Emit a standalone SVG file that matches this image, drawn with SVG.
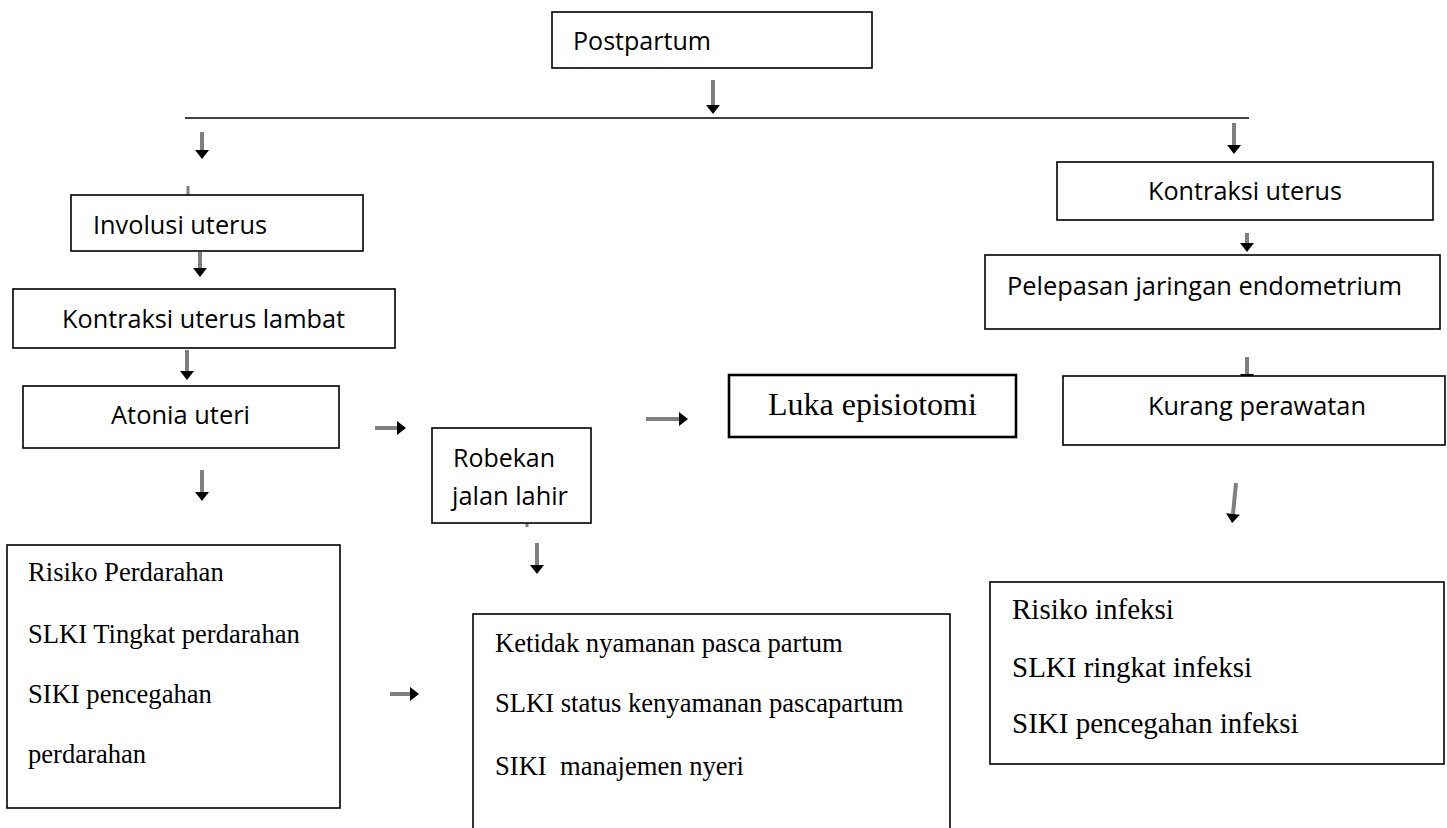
<svg xmlns="http://www.w3.org/2000/svg" width="1447" height="828" viewBox="0 0 1447 828">
<defs>
<marker id="ah" markerUnits="userSpaceOnUse" markerWidth="10" markerHeight="14" refX="0" refY="7" orient="auto" overflow="visible">
<path d="M0,0 L9,7 L0,14 Z" fill="#000"/>
</marker>
</defs>
<style>
.box{fill:#fff;stroke:#000;stroke-width:1.6}
.thick{stroke-width:2.6}
.sans{font-family:"Open Sans","Noto Sans",sans-serif;font-size:26px;fill:#000}
.serif{font-family:"Liberation Serif","Times New Roman",serif;font-size:26.6px;fill:#000}
.arr{stroke:#808080;stroke-width:4;fill:none;marker-end:url(#ah)}
.tick{stroke:#808080;stroke-width:3;fill:none}
.hline{stroke:#000;stroke-width:1.5}
</style>
<rect width="1447" height="828" fill="#fff"/>
<g id="connectors">
<line class="hline" x1="185" y1="118" x2="1249" y2="118"/>
<line class="arr" x1="713" y1="80" x2="713" y2="105"/>
<line class="arr" x1="202" y1="132" x2="202" y2="150"/>
<line class="tick" x1="188" y1="186" x2="188" y2="196"/>
<line class="arr" x1="200" y1="252" x2="200" y2="268"/>
<line class="arr" x1="187" y1="350" x2="187" y2="371"/>
<line class="arr" x1="202" y1="470" x2="202" y2="492"/>
<line class="arr" x1="375" y1="428" x2="397" y2="428"/>
<line class="arr" x1="646" y1="419" x2="679" y2="419"/>
<line class="tick" x1="527" y1="522" x2="527" y2="527"/>
<line class="arr" x1="537" y1="543" x2="537" y2="565"/>
<line class="arr" x1="390" y1="694" x2="410" y2="694"/>
<line class="arr" x1="1234" y1="123" x2="1234" y2="145"/>
<line class="arr" x1="1247" y1="233" x2="1247" y2="243"/>
<line class="arr" x1="1247" y1="357" x2="1247" y2="374"/>
<line class="arr" x1="1236" y1="483" x2="1233" y2="514"/>
</g>
<g id="postpartum">
<rect class="box" x="552" y="12" width="320" height="56"/>
<text class="sans" x="573" y="50" textLength="138" lengthAdjust="spacingAndGlyphs">Postpartum</text>
</g>
<g id="involusi-uterus">
<rect class="box" x="71" y="195" width="292" height="56"/>
<text class="sans" x="93" y="234" textLength="174" lengthAdjust="spacingAndGlyphs">Involusi uterus</text>
</g>
<g id="kontraksi-uterus-lambat">
<rect class="box" x="13" y="289" width="382" height="59"/>
<text class="sans" x="62" y="328" textLength="283" lengthAdjust="spacingAndGlyphs">Kontraksi uterus lambat</text>
</g>
<g id="atonia-uteri">
<rect class="box" x="23" y="386" width="316" height="62"/>
<text class="sans" x="111" y="424" textLength="139" lengthAdjust="spacingAndGlyphs">Atonia uteri</text>
</g>
<g id="robekan-jalan-lahir">
<rect class="box" x="432" y="428" width="159" height="95"/>
<text class="sans" x="453" y="467" textLength="102" lengthAdjust="spacingAndGlyphs">Robekan</text>
<text class="sans" x="452" y="505" textLength="116" lengthAdjust="spacingAndGlyphs">jalan lahir</text>
</g>
<g id="luka-episiotomi">
<rect class="box thick" x="729" y="375" width="287" height="62"/>
<text class="serif" x="768" y="415" style="font-size:32px">Luka episiotomi</text>
</g>
<g id="kontraksi-uterus">
<rect class="box" x="1057" y="162" width="376" height="58"/>
<text class="sans" x="1148" y="200" textLength="194" lengthAdjust="spacingAndGlyphs">Kontraksi uterus</text>
</g>
<g id="pelepasan-jaringan">
<rect class="box" x="985" y="255" width="455" height="74"/>
<text class="sans" x="1007" y="295" textLength="395" lengthAdjust="spacingAndGlyphs">Pelepasan jaringan endometrium</text>
</g>
<g id="kurang-perawatan">
<rect class="box" x="1063" y="376" width="382" height="69"/>
<text class="sans" x="1148" y="415" textLength="218" lengthAdjust="spacingAndGlyphs">Kurang perawatan</text>
</g>
<g id="risiko-perdarahan">
<rect class="box" x="7" y="545" width="333" height="263"/>
<text class="serif" x="28" y="581">Risiko Perdarahan</text>
<text class="serif" x="28" y="643">SLKI Tingkat perdarahan</text>
<text class="serif" x="28" y="703">SIKI pencegahan</text>
<text class="serif" x="28" y="763">perdarahan</text>
</g>
<g id="ketidaknyamanan">
<rect class="box" x="473" y="614" width="477" height="240"/>
<text class="serif" x="495" y="652">Ketidak nyamanan pasca partum</text>
<text class="serif" x="495" y="712">SLKI status kenyamanan pascapartum</text>
<text class="serif" x="495" y="775" xml:space="preserve">SIKI  manajemen nyeri</text>
</g>
<g id="risiko-infeksi">
<rect class="box" x="990" y="582" width="454" height="182"/>
<text class="serif" x="1012" y="619" style="font-size:29px">Risiko infeksi</text>
<text class="serif" x="1012" y="677" style="font-size:29px">SLKI ringkat infeksi</text>
<text class="serif" x="1012" y="733" style="font-size:29px">SIKI pencegahan infeksi</text>
</g>
</svg>
